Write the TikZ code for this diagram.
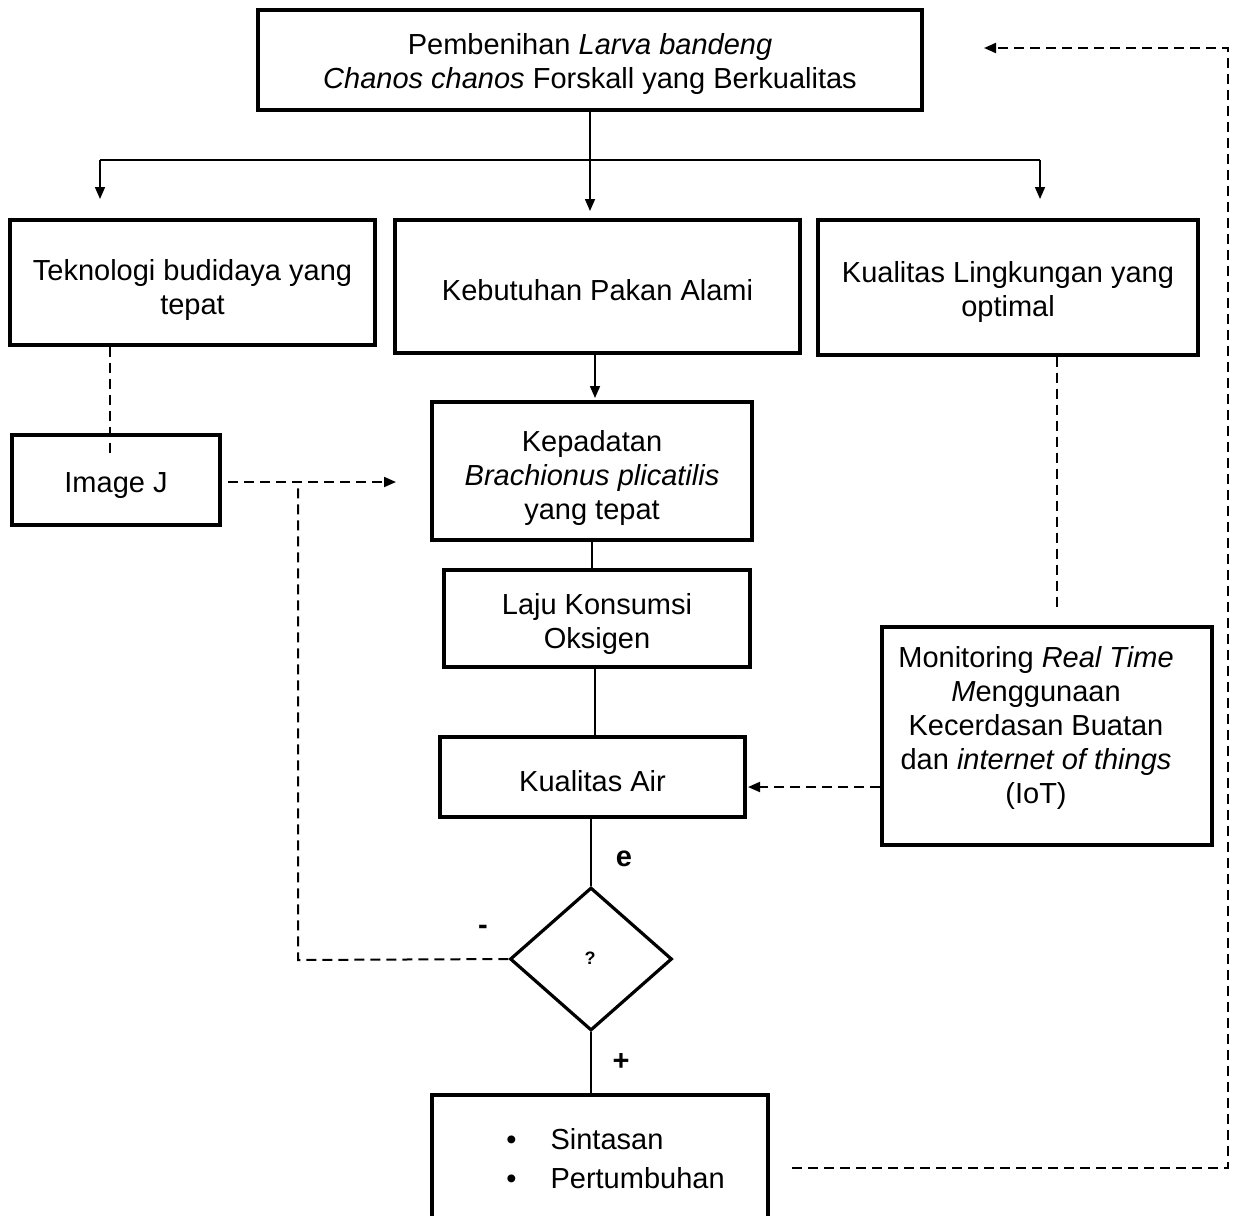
\documentclass[tikz,border=0pt]{standalone}
\usepackage{fontspec}
\setmainfont{Liberation Sans}
\usetikzlibrary{arrows.meta,shapes.geometric}
\newcommand\topstrut[1]{\rule{0pt}{#1}}
\begin{document}
\begin{tikzpicture}[x=0.5pt,y=-0.5pt,
  box/.style={draw,line width=1.6pt,inner sep=0pt,align=center,font=\fontsize{14.5}{17}\selectfont},
  txt/.style={inner sep=0pt,align=center,font=\fontsize{14.5}{17}\selectfont},
  lbl/.style={inner sep=0pt,font=\fontsize{14.5}{17}\selectfont\bfseries},
  conn/.style={line width=0.8pt},
  bus/.style={line width=1.2pt},
  dsh/.style={line width=1pt,dash pattern=on 5pt off 3pt},
  tip/.style={-{Triangle[length=6pt,width=5pt]}}
]
\useasboundingbox (0,0) rectangle (1240,1215);
\clip (0,0) rectangle (1240,1215);

% nodes
\node[box,minimum width=332pt,minimum height=50pt] (top) at (590,60)
  {\topstrut{14.6pt}Pembenihan \textit{Larva bandeng}\\\textit{Chanos chanos} Forskall yang Berkualitas};
\node[box,minimum width=182.5pt,minimum height=62.5pt] (tek) at (192.5,282.5)
  {\topstrut{17.6pt}Teknologi budidaya yang\\tepat};
\node[box,minimum width=202.5pt,minimum height=66.5pt] (keb) at (597.5,286.5)
  {\topstrut{14.6pt}Kebutuhan Pakan Alami};
\node[box,minimum width=190pt,minimum height=67.5pt] (kual) at (1008,287.5)
  {\topstrut{14.6pt}Kualitas Lingkungan yang\\optimal};
\node[box,minimum width=104pt,minimum height=45pt] (imgj) at (116,480) {\topstrut{15.5pt}Image J};
\node[box,minimum width=160pt,minimum height=69pt] (kep) at (592,471)
  {\topstrut{17.6pt}Kepadatan\\\textit{Brachionus plicatilis}\\yang tepat};
\node[box,minimum width=153pt,minimum height=48.5pt] (laju) at (597,618.5)
  {\topstrut{15.6pt}Laju Konsumsi\\Oksigen};
\node[box,minimum width=152.5pt,minimum height=40pt] (air) at (592.5,777) {\topstrut{14.5pt}Kualitas Air};
\node[draw,diamond,line width=1.6pt,inner sep=0pt,minimum width=81pt,minimum height=71.5pt] (dia) at (591,959) {};
\node[inner sep=0pt,font=\fontsize{9}{10}\selectfont\bfseries] (q) at (590,958) {?};
\node[box,minimum width=168pt,minimum height=72.5pt] (sin) at (600,1167.5) {};
\node[inner sep=0pt,align=left,anchor=west,font=\fontsize{14.5}{19.5}\selectfont] (sintxt) at (506,1159)
  {\textbullet\hspace{17pt}Sintasan\\\textbullet\hspace{17pt}Pertumbuhan};
\node[box,minimum width=165pt,minimum height=109pt] (mon) at (1047,736) {};
\node[txt] (montxt) at (1036,728)
  {Monitoring \textit{Real Time}\\\textit{M}enggunaan\\Kecerdasan Buatan\\dan \textit{internet of things}\\(IoT)};

% labels
\node[lbl] (le) at (624,859) {e};
\node[lbl] (lp) at (621,1062) {+};
\node[lbl] (lm) at (483,930) {-};

% coordinates
\coordinate (busL) at (100,160);
\coordinate (busM) at (590,160);
\coordinate (busR) at (1040,160);
\coordinate (tipL) at (100,199);
\coordinate (tipM) at (590,211);
\coordinate (tipR) at (1040,199);
\coordinate (kebtip) at (595,398);
\coordinate (tekend) at (110,455);
\coordinate (ijs) at (228,482);
\coordinate (ijtip) at (396,482);
\coordinate (mj) at (298,482);
\coordinate (md) at (298,960);
\coordinate (fb1) at (792,1168);
\coordinate (fb2) at (1228,1168);
\coordinate (fb3) at (1228,48);
\coordinate (fbtip) at (984,48);
\coordinate (kualend) at (1057,608);

% solid connectors
\draw[conn] (top.south) -- (busM);
\draw[bus] (busL) -- (busR);
\draw[conn,tip] (busL) -- (tipL);
\draw[conn,tip] (busM) -- (tipM);
\draw[conn,tip] (busR) -- (tipR);
\draw[conn,tip] (keb.south -| kebtip) -- (kebtip);
\draw[conn] (kep.south) -- (laju.north -| kep.south);
\draw[conn] (laju.south -| 595,0) -- (air.north -| 595,0);
\draw[conn] (air.south -| dia.north) -- (dia.north);
\draw[conn] (dia.south) -- (sin.north -| dia.south);

% dashed connectors
\draw[dsh] (tek.south -| tekend) -- (tekend);
\draw[dsh,tip] (ijs) -- (ijtip);
\draw[dsh] (dia.west) -- (md) -- (mj);
\draw[dsh,tip] (fb1) -- (fb2) -- (fb3) -- (fbtip);
\draw[dsh] (kual.south -| kualend) -- (kualend);
\draw[dsh,tip] (mon.west |- 0,787) -- (748,787);
\end{tikzpicture}
\end{document}
